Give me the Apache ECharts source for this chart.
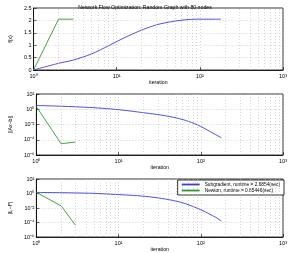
<!DOCTYPE html>
<html>
<head>
<meta charset="utf-8">
<script src="https://cdn.jsdelivr.net/npm/echarts@6/dist/echarts.min.js"></script>
<style>
  html, body { margin: 0; padding: 0; background: #fff; }
  #chart { width: 290px; height: 253px; }
</style>
</head>
<body>
<div id="chart"></div>
<script>
// 数据
var subIter = [1, 2, 3, 5, 8, 12, 19, 30, 46, 65, 91, 110, 128, 150, 178];
var subF = [0, 0.27, 0.4, 0.65, 0.98, 1.28, 1.58, 1.82, 1.95, 2.02, 2.05, 2.05, 2.05, 2.05, 2.05];
var subRes = [3.16, 2.5, 2.1, 1.6, 1.1, 0.71, 0.38, 0.2, 0.09, 0.035, 0.009, 0.0032, 0.0013, 0.0005, 0.00018];
var subGap = [1.4, 1.3, 1.2, 1.05, 0.8, 0.63, 0.45, 0.25, 0.11, 0.04, 0.009, 0.0035, 0.0014, 0.00056, 0.00016];

var newtonIter = [1, 2, 3];
var newtonF = [0, 2.05, 2.05];
var newtonRes = [2.2, 3e-5, 5e-5];
var newtonGap = [1.4, 0.02, 4e-5];

var minorX = [2, 3, 4, 5, 6, 7, 8, 9, 20, 30, 40, 50, 60, 70, 80, 90, 200, 300, 400, 500, 600, 700, 800, 900];

var subName = 'Subgradient, runtime = 2.6854(sec)';
var newtonName = 'Newton, runtime = 0.65446(sec)';

var font = 'Liberation Sans, Arial, sans-serif';
var sup = { '0': '⁰', '1': '¹', '2': '²', '3': '³', '4': '⁴', '5': '⁵', '6': '⁶', '-': '⁻' };
function powLabel(v) {
  var e = String(Math.round(Math.log10(v)));
  return '10' + e.split('').map(function (c) { return sup[c]; }).join('');
}
function pairs(xs, ys) {
  return xs.map(function (x, i) { return [x, ys[i]]; });
}

var grids = [
  { top: 8, height: 62 },
  { top: 94, height: 61 },
  { top: 179, height: 60 }
];

var gridLine = { show: true, lineStyle: { color: '#b8b8b8', type: [1, 2], width: 0.6 } };

var xAxes = grids.map(function (g, i) {
  return {
    type: 'log', logBase: 10, gridIndex: i, min: 1, max: 1000,
    name: 'iteration', nameLocation: 'middle', nameGap: 10,
    nameTextStyle: { fontSize: 5.2, fontFamily: font, color: '#000' },
    axisLine: { lineStyle: { color: '#000', width: 0.8 } },
    axisTick: { inside: true, length: 3, lineStyle: { color: '#000', width: 0.6 } },
    axisLabel: { fontSize: 5.5, fontFamily: font, color: '#000', margin: 3, formatter: powLabel },
    splitLine: gridLine
  };
});

var yCommon = {
  nameLocation: 'middle', nameRotate: 90,
  nameTextStyle: { fontSize: 5.2, fontFamily: font, color: '#000' },
  axisLine: { lineStyle: { color: '#000', width: 0.8 } },
  axisTick: { inside: true, length: 3, lineStyle: { color: '#000', width: 0.6 } },
  axisLabel: { fontSize: 5.5, fontFamily: font, color: '#000', margin: 2 },
  splitLine: gridLine
};

var yAxes = [
  Object.assign({}, yCommon, { type: 'value', gridIndex: 0, min: 0, max: 2.5, interval: 0.5, name: 'f(x)', nameGap: 12 }),
  Object.assign({}, yCommon, { type: 'log', logBase: 10, gridIndex: 1, min: 1e-6, max: 1e2, interval: 2, name: '||Ax−b||', nameGap: 12,
    axisLabel: Object.assign({}, yCommon.axisLabel, { formatter: powLabel }) }),
  Object.assign({}, yCommon, { type: 'log', logBase: 10, gridIndex: 2, min: 1e-6, max: 1e2, interval: 2, name: '|f\u2096−f*|', nameGap: 12,
    axisLabel: Object.assign({}, yCommon.axisLabel, { formatter: powLabel }) })
];

var subData = [subF, subRes, subGap];
var newtonData = [newtonF, newtonRes, newtonGap];
var series = [];
grids.forEach(function (g, i) {
  series.push({
    name: subName, type: 'line', xAxisIndex: i, yAxisIndex: i,
    data: pairs(subIter, subData[i]), showSymbol: false, smooth: 0.3,
    lineStyle: { color: '#3c3cdc', width: 0.9 }, itemStyle: { color: '#3c3cdc' },
    markLine: {
      silent: true, symbol: 'none', label: { show: false },
      lineStyle: { color: '#b8b8b8', type: [1, 2], width: 0.6 },
      data: minorX.map(function (x) { return { xAxis: x }; })
    }
  });
  series.push({
    name: newtonName, type: 'line', xAxisIndex: i, yAxisIndex: i,
    data: pairs(newtonIter, newtonData[i]), showSymbol: false,
    lineStyle: { color: '#2f962f', width: 0.9 }, itemStyle: { color: '#2f962f' }
  });
});

var chart = echarts.init(document.getElementById('chart'));
chart.setOption({
  animation: false,
  backgroundColor: '#fff',
  title: {
    text: 'Network Flow Optimization: Random Graph with 80 nodes',
    left: 'center', top: 0,
    textStyle: { fontSize: 5.2, fontWeight: 'normal', fontFamily: font, color: '#000' }
  },
  legend: {
    data: [subName, newtonName], orient: 'vertical', right: 6, top: 180,
    backgroundColor: '#fff', borderColor: '#000', borderWidth: 0.8,
    padding: [2, 4, 2, 4], itemGap: 1, itemWidth: 18, itemHeight: 4,
    icon: 'path://M0,0 L10,0 L10,1 L0,1 Z',
    textStyle: { fontSize: 4.8, fontFamily: font, color: '#000' }
  },
  grid: grids.map(function (g) {
    return { left: 18, right: 4, top: g.top, height: g.height, show: true, borderColor: '#000', borderWidth: 0.8 };
  }),
  xAxis: xAxes,
  yAxis: yAxes,
  series: series
});
</script>
</body>
</html>
